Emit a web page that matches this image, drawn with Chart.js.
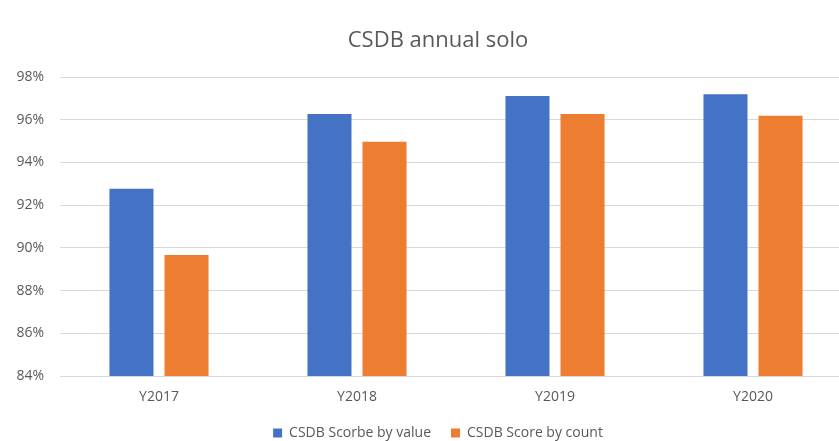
<!DOCTYPE html>
<html lang="en">
<head>
  <meta charset="UTF-8">
  <title>CSDB annual solo</title>
  <script src="https://cdn.jsdelivr.net/npm/chart.js"></script>
  <style>
    html, body { margin: 0; padding: 0; background: #fff; overflow: hidden; }
    #wrap { position: relative; width: 876px; height: 450px; }
  </style>
</head>
<body>
  <div id="wrap">
    <canvas id="scoreChart"></canvas>
  </div>

  <script>
    // chart data
    const years = ['Y2017', 'Y2018', 'Y2019', 'Y2020'];
    const scoreByValue = [92.77, 96.27, 97.11, 97.19];
    const scoreByCount = [89.67, 94.97, 96.27, 96.19];
    const seriesNames = ['CSDB Scorbe by value', 'CSDB Score by count'];

    const textColor = '#595959';
    const gridColor = '#d9d9d9';
    Chart.defaults.font.family = '"Open Sans", sans-serif';
    Chart.defaults.color = textColor;

    // title and legend are centred on the whole frame, not on the shifted plot
    const centerBlocks = {
      id: 'centerBlocks',
      afterLayout(chart) {
        if (chart.titleBlock) chart.titleBlock.left = 24;
        if (chart.legend) chart.legend.left = 24;
      }
    };

    let ctx = document.getElementById('scoreChart').getContext('2d');
    let chart = new Chart(ctx, {
      type: 'bar',
      data: {
        labels: years,
        datasets: [{
          label: seriesNames[0],
          data: scoreByValue,
          backgroundColor: '#4472C4'
        }, {
          label: seriesNames[1],
          data: scoreByCount,
          backgroundColor: '#ED7D31'
        }]
      },
      options: {
        responsive: true,
        maintainAspectRatio: false,
        animation: false,
        categoryPercentage: 0.556,
        barPercentage: 0.8,
        layout: { padding: { left: 0, right: 24, top: 0, bottom: 0 } },
        plugins: {
          title: {
            display: true,
            text: 'CSDB annual solo',
            color: textColor,
            font: { size: 22, weight: 'normal' },
            padding: { top: 28, bottom: 22.6 }
          },
          legend: {
            position: 'bottom',
            labels: {
              boxWidth: 9,
              boxHeight: 9,
              padding: 20,
              color: textColor,
              font: { size: 14 }
            }
          },
          tooltip: { enabled: false }
        },
        scales: {
          x: {
            afterFit: function(scale) { scale.height = 30; },
            grid: { display: false, drawTicks: false },
            border: { color: gridColor },
            ticks: { color: textColor, font: { size: 14 }, padding: 12.6 }
          },
          y: {
            min: 84,
            max: 98,
            afterFit: function(scale) { scale.width = 60; },
            border: { display: false },
            grid: { color: gridColor, drawTicks: false },
            ticks: {
              stepSize: 2,
              padding: 16,
              color: textColor,
              font: { size: 14 },
              callback: function(v) { return v + '%'; }
            }
          }
        }
      },
      plugins: [centerBlocks]
    });
  </script>
</body>
</html>
